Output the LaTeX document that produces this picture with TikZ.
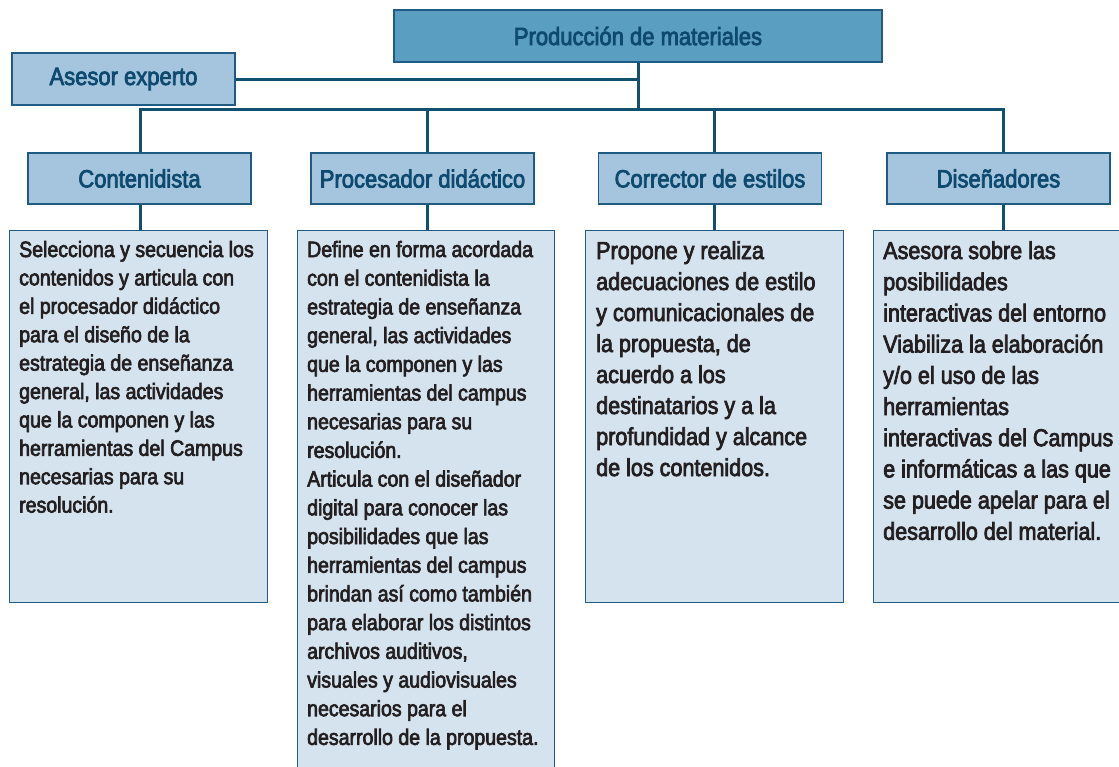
\documentclass[tikz,border=0pt]{standalone}
\usepackage{fontspec}
\setmainfont{Liberation Sans}[FakeStretch=0.88,FakeBold=3]
\definecolor{topfill}{HTML}{5A9EC2}
\definecolor{hdrfill}{HTML}{A4C5DD}
\definecolor{detfill}{HTML}{D5E3EF}
\definecolor{bordc}{HTML}{1F5B82}
\definecolor{linec}{HTML}{12506F}
\definecolor{hdrtext}{HTML}{0E4A6F}
\definecolor{bodyc}{HTML}{231F20}
\begin{document}
\begin{tikzpicture}[x=1pt,y=-1pt,
  hbox/.style={draw=bordc, line width=1.3pt, fill=hdrfill, minimum width=223pt, minimum height=51pt, inner sep=0pt, text=hdrtext, font=\fontsize{25}{28}\selectfont},
  topbox/.style={hbox, fill=topfill, minimum width=488pt, minimum height=52pt},
  dbox/.style={draw=bordc, line width=1.3pt, fill=detfill, inner sep=0pt, anchor=north west},
  conn/.style={draw=linec, line width=3pt},
  txt/.style={anchor=base west, inner sep=0pt, text=bodyc}]
\useasboundingbox (0,0) rectangle (1119,766);
\clip (0,0) rectangle (1119,766);
% connector junctions
\coordinate (b1) at (140,109);
\coordinate (b2) at (427,109);
\coordinate (b3) at (714,109);
\coordinate (b4) at (1003,109);
% boxes
\node[topbox] (prod) at (638,36) {Producción de materiales};
\node[hbox, minimum height=52pt] (ases) at (123.5,79) {Asesor experto};
\node[hbox] (h1) at (139.5,178.5) {Contenidista};
\node[hbox] (h2) at (422.5,178.5) {Procesador didáctico};
\node[hbox] (h3) at (710,178.5) {Corrector de estilos};
\node[hbox] (h4) at (998.5,178.5) {Diseñadores};
\node[dbox, minimum width=258pt, minimum height=372pt] (d1) at (9,230) {};
\node[dbox, minimum width=257pt, minimum height=570pt] (d2) at (297,230) {};
\node[dbox, minimum width=258pt, minimum height=372pt] (d3) at (585,230) {};
\node[dbox, minimum width=260pt, minimum height=372pt] (d4) at (873,230) {};
% connectors
\draw[conn] (prod.south) -- (prod.south |- b1);
\draw[conn] (ases.east) -- (ases.east -| prod.south);
\draw[conn] (b1 |- h1.north) -- (b1) -- (b4) -- (b4 |- h4.north);
\draw[conn] (b2) -- (b2 |- h2.north);
\draw[conn] (b3) -- (b3 |- h3.north);
\draw[conn] (b1 |- h1.south) -- (b1 |- d1.north);
\draw[conn] (b2 |- h2.south) -- (b2 |- d2.north);
\draw[conn] (b3 |- h3.south) -- (b3 |- d3.north);
\draw[conn] (b4 |- h4.south) -- (b4 |- d4.north);
% texts
\node[txt] (t1) at (19,257) {\parbox[t]{250pt}{\raggedright\fontsize{22.2}{28.4}\selectfont
Selecciona y secuencia los\\
contenidos y articula con\\
el procesador didáctico\\
para el diseño de la\\
estrategia de enseñanza\\
general, las actividades\\
que la componen y las\\
herramientas del Campus\\
necesarias para su\\
resolución.}};
\node[txt] (t2) at (307,257) {\parbox[t]{250pt}{\raggedright\fontsize{22.2}{28.7}\selectfont
Define en forma acordada\\
con el contenidista la\\
estrategia de enseñanza\\
general, las actividades\\
que la componen y las\\
herramientas del campus\\
necesarias para su\\
resolución.\\
Articula con el diseñador\\
digital para conocer las\\
posibilidades que las\\
herramientas del campus\\
brindan así como también\\
para elaborar los distintos\\
archivos auditivos,\\
visuales y audiovisuales\\
necesarios para el\\
desarrollo de la propuesta.}};
\node[txt] (t3) at (596,259) {\parbox[t]{250pt}{\raggedright\fontsize{24.5}{31}\selectfont
Propone y realiza\\
adecuaciones de estilo\\
y comunicacionales de\\
la propuesta, de\\
acuerdo a los\\
destinatarios y a la\\
profundidad y alcance\\
de los contenidos.}};
\node[txt] (t4) at (883,259) {\parbox[t]{250pt}{\raggedright\fontsize{24.5}{31.2}\selectfont
Asesora sobre las\\
posibilidades\\
interactivas del entorno\\
Viabiliza la elaboración\\
y/o el uso de las\\
herramientas\\
interactivas del Campus\\
e informáticas a las que\\
se puede apelar para el\\
desarrollo del material.}};
\end{tikzpicture}
\end{document}
